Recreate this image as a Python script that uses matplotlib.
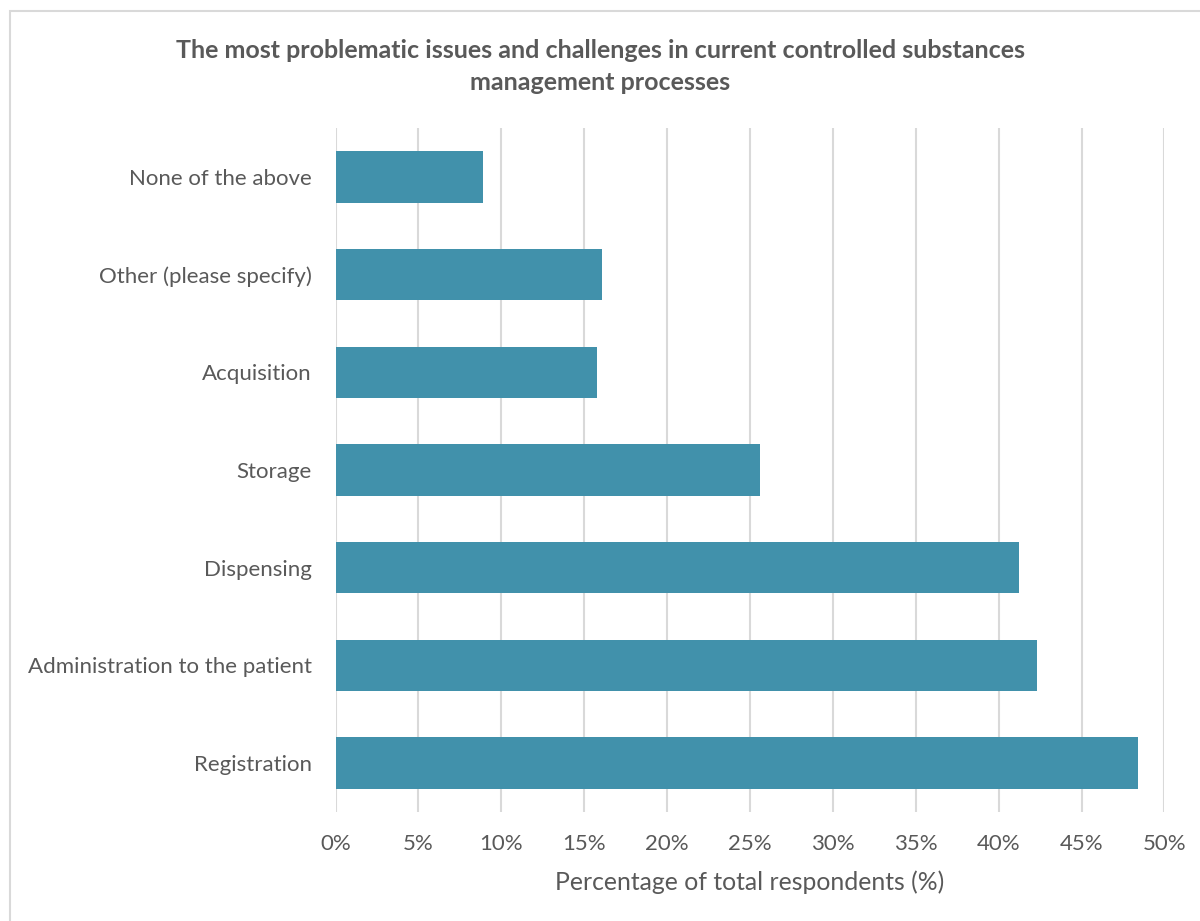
import matplotlib.pyplot as plt
from matplotlib.patches import Rectangle
from matplotlib.ticker import PercentFormatter

# survey results, top of chart first
categories = ["None of the above", "Other (please specify)", "Acquisition",
              "Storage", "Dispensing", "Administration to the patient",
              "Registration"]
shares = [8.9, 16.1, 15.8, 25.6, 41.2, 42.3, 48.4]   # percent of respondents
xticks = [0, 5, 10, 15, 20, 25, 30, 35, 40, 45, 50]

title = ("The most problematic issues and challenges in current controlled substances\n"
         "management processes")
xlabel = "Percentage of total respondents (%)"

bar_color = "#4191ab"
text_color = "#595959"
grid_color = "#d9d9d9"

plt.rcParams['font.family'] = ['Lato', 'DejaVu Sans']

fig = plt.figure(figsize=(12, 9.21), dpi=100)
ax = fig.add_axes([0.2796, 0.1187, 0.6908, 0.742])

# light frame round the chart area (runs off right and bottom edges)
fig.patches.append(Rectangle((10 / 1200, -0.05), 1.2, 1 - 11 / 921 + 0.05,
                             transform=fig.transFigure, fill=False,
                             edgecolor="#d9d9d9", linewidth=1.5))

ypos = list(range(len(categories)))
ax.barh(ypos, shares, height=0.526, color=bar_color, zorder=3)
ax.set_ylim(len(categories) - 0.5, -0.5)
ax.set_xlim(0, 50)

ax.set_yticks(ypos)
ax.set_yticklabels(categories, fontsize=16, color=text_color)
ax.set_xticks(xticks)
ax.xaxis.set_major_formatter(PercentFormatter(decimals=0))
ax.tick_params(axis='x', labelsize=16, labelcolor=text_color, length=0, pad=16)
ax.tick_params(axis='y', length=0, pad=17)

ax.grid(axis='x', color=grid_color, linewidth=1.5, zorder=0)
for s in ax.spines.values():
    s.set_visible(False)

ax.set_xlabel(xlabel, fontsize=17.8, color=text_color, labelpad=12)
fig.text(0.5, 0.928, title, ha='center', va='center', fontsize=18,
         fontweight='bold', color=text_color, linespacing=1.5)

fig.savefig("out.png", dpi=100, facecolor="white")
